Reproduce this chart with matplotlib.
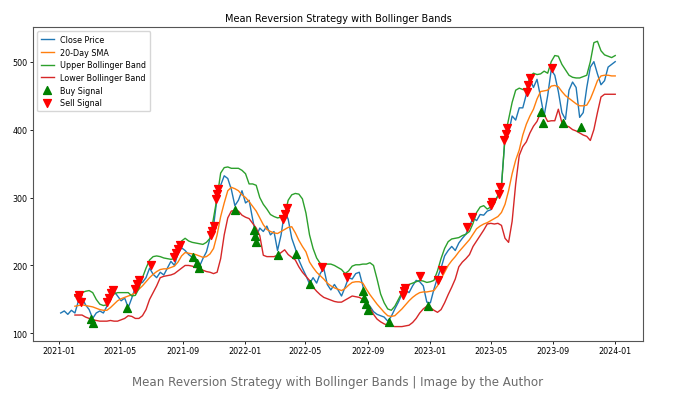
import numpy as np
import pandas as pd
import matplotlib
matplotlib.use("Agg")
import matplotlib.pyplot as plt

# weekly samples
dates = pd.date_range("2021-01-04", periods=157, freq="7D")

close = [130, 133, 128, 134, 130, 148, 152, 142, 135, 122,
         130, 133, 130, 140, 155, 162, 155, 148, 152, 138,
         152, 168, 173, 175, 182, 196, 187, 182, 190, 186,
         196, 206, 200, 218, 226, 222, 216, 212, 205, 198,
         210, 220, 240, 258, 300, 318, 332, 328, 312, 288,
         296, 310, 292, 296, 268, 242, 255, 250, 258, 245,
         250, 222, 245, 280, 268, 240, 225, 208, 196, 185,
         173, 182, 174, 188, 196, 172, 164, 172, 164, 155,
         168, 182, 180, 188, 190, 170, 145, 140, 132, 128,
         126, 124, 118, 125, 136, 146, 158, 164, 160, 170,
         178, 176, 170, 146, 145, 165, 182, 196, 214, 222,
         228, 222, 233, 240, 246, 258, 270, 266, 275, 274,
         280, 282, 295, 302, 318, 388, 395, 420, 414, 432,
         432, 452, 474, 462, 474, 448, 420, 450, 488, 480,
         456, 425, 415, 458, 470, 462, 418, 425, 462, 492,
         500, 482, 466, 472, 492, 496, 500]

# bands start at the 5th week
band_dates = dates[4:]

sma = [140, 141, 142, 141, 140, 139, 137, 135, 134, 134,
       138, 143, 148, 151, 153, 155, 157, 160, 165, 170,
       176, 182, 187, 191, 194, 195, 195, 197, 199, 205,
       214, 219, 218, 217, 216, 214, 212, 213, 217, 225,
       245, 272, 292, 310, 315, 313, 310, 304, 300, 294,
       287, 280, 270, 260, 253, 250, 248, 247, 250, 253,
       256, 257, 248, 237, 228, 220, 205, 197, 190, 185,
       180, 174, 170, 167, 165, 163, 166, 171, 175, 176,
       176, 174, 165, 157, 150, 143, 137, 131, 126, 125,
       126, 131, 136, 142, 148, 153, 157, 160, 161, 161,
       162, 163, 170, 180, 190, 200, 207, 213, 220, 226,
       232, 238, 246, 254, 258, 261, 263, 266, 269, 272,
       278, 290, 310, 335, 355, 370, 392, 408, 420, 430,
       445, 456, 457, 458, 464, 465, 463, 456, 450, 446,
       442, 438, 435, 435, 436, 445, 458, 472, 479, 480,
       480, 479, 479]

upper = [155, 158, 160, 162, 163, 160, 150, 143, 141, 142,
         153, 158, 160, 160, 160, 160, 155, 156, 166, 182,
         196, 208, 213, 214, 213, 211, 210, 209, 210, 226,
         236, 240, 236, 234, 233, 232, 231, 234, 240, 270,
         300, 336, 344, 345, 343, 343, 343, 340, 335, 320,
         320, 318, 300, 290, 283, 275, 272, 270, 271, 274,
         296, 304, 306, 305, 298, 277, 245, 225, 211, 203,
         202, 202, 202, 200, 197, 194, 188, 192, 199, 201,
         201, 202, 202, 204, 200, 180, 158, 145, 136, 134,
         140, 150, 160, 168, 172, 174, 176, 178, 177, 175,
         176, 178, 192, 210, 225, 235, 239, 240, 241, 244,
         246, 250, 262, 278, 286, 288, 283, 286, 291, 303,
         316, 390, 415, 440, 458, 461, 459, 458, 478, 483,
         481, 482, 486, 483, 500, 509, 508, 496, 488, 480,
         477, 476, 476, 478, 480, 500, 528, 530, 516, 510,
         508, 506, 509]

lower = [127, 127, 127, 124, 122, 120, 119, 118, 118, 118,
         119, 118, 118, 120, 122, 126, 125, 122, 122, 126,
         135, 150, 160, 170, 182, 184, 185, 186, 188, 192,
         196, 200, 200, 199, 197, 195, 193, 191, 190, 188,
         190, 210, 245, 270, 280, 281, 280, 274, 271, 269,
         262, 255, 244, 215, 213, 213, 213, 215, 219, 223,
         216, 212, 208, 198, 190, 184, 178, 168, 162, 157,
         153, 151, 149, 147, 146, 146, 149, 152, 155, 154,
         153, 150, 147, 138, 128, 121, 117, 114, 112, 111,
         110, 110, 110, 111, 112, 116, 122, 130, 136, 140,
         138, 134, 131, 135, 145, 157, 168, 180, 198, 205,
         210, 216, 228, 236, 244, 252, 261, 262, 261, 262,
         259, 240, 234, 265, 320, 362, 375, 382, 395, 405,
         412, 425, 422, 412, 413, 413, 430, 410, 406, 404,
         400, 398, 395, 392, 390, 384, 400, 425, 448, 452,
         452, 452, 452]

buy_dates = ["2021-03-05", "2021-03-08", "2021-05-14", "2021-09-22", "2021-09-29",
             "2021-10-04", "2021-12-14", "2022-01-19", "2022-01-21", "2022-01-24",
             "2022-03-08", "2022-04-13", "2022-05-09", "2022-08-22", "2022-08-25",
             "2022-08-29", "2022-09-01", "2022-10-12", "2022-12-28", "2023-08-08",
             "2023-08-11", "2023-09-21", "2023-10-26"]
buy_prices = [121, 116, 137, 213, 203,
              196, 281, 252, 243, 234,
              216, 217, 172, 162, 152,
              143, 135, 117, 140, 426,
              409, 410, 404]

sell_dates = ["2021-02-08", "2021-02-10", "2021-02-12", "2021-04-06", "2021-04-09",
              "2021-04-13", "2021-04-16", "2021-05-31", "2021-06-03", "2021-06-07",
              "2021-06-30", "2021-08-16", "2021-08-19", "2021-08-23", "2021-08-26",
              "2021-10-26", "2021-10-28", "2021-11-01", "2021-11-05", "2021-11-08",
              "2021-11-10", "2022-03-18", "2022-03-22", "2022-03-25", "2022-06-02",
              "2022-07-21", "2022-11-09", "2022-11-11", "2022-11-14", "2022-12-13",
              "2023-01-17", "2023-01-24", "2023-03-16", "2023-03-24", "2023-05-02",
              "2023-05-04", "2023-05-17", "2023-05-19", "2023-05-26", "2023-05-30",
              "2023-06-01", "2023-07-12", "2023-07-14", "2023-07-18", "2023-08-30"]
sell_prices = [152, 157, 146, 146, 152,
               160, 164, 166, 172, 178,
               200, 212, 218, 224, 230,
               245, 250, 258, 298, 305,
               312, 268, 276, 284, 198,
               183, 157, 162, 167, 184,
               178, 194, 257, 272, 289,
               294, 305, 316, 384, 393,
               402, 456, 466, 476, 490]

fig = plt.figure(figsize=(6.8, 4.06), dpi=100)
ax = fig.add_axes([0.0485, 0.158, 0.897, 0.773])

lw = 1.0
ax.plot(dates, close, color="C0", lw=lw, label="Close Price")
ax.plot(band_dates, sma, color="C1", lw=lw, label="20-Day SMA")
ax.plot(band_dates, upper, color="C2", lw=lw, label="Upper Bollinger Band")
ax.plot(band_dates, lower, color="C3", lw=lw, label="Lower Bollinger Band")
ax.scatter(pd.to_datetime(buy_dates), buy_prices, marker="^", color="green",
           s=32, label="Buy Signal", zorder=3)
ax.scatter(pd.to_datetime(sell_dates), sell_prices, marker="v", color="red",
           s=32, label="Sell Signal", zorder=3)

ax.set_title("Mean Reversion Strategy with Bollinger Bands", fontsize=7, pad=4)
ax.set_yticks([100, 200, 300, 400, 500])
ax.tick_params(labelsize=5.8, length=2, width=0.6, pad=2)
for sp in ax.spines.values():
    sp.set_linewidth(0.8)
    sp.set_color("#555555")

ax.legend(loc="upper left", fontsize=5.8, handlelength=1.6, borderpad=0.5,
          labelspacing=0.45, markerscale=1.0)

fig.text(0.496, 0.057, "Mean Reversion Strategy with Bollinger Bands | Image by the Author",
         ha="center", va="center", fontsize=8.6, color="#6b6b6b")

fig.savefig("out.png", dpi=100)
